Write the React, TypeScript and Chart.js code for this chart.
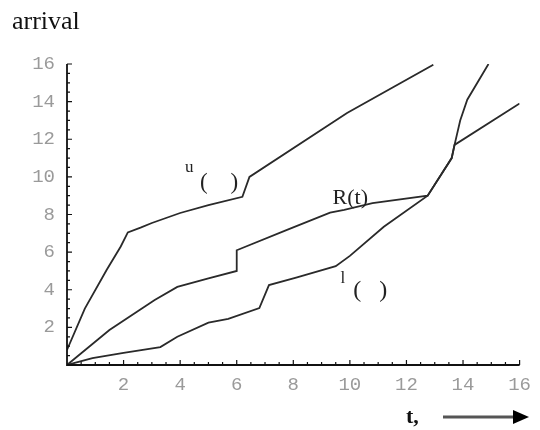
import React, { useEffect, useRef } from "react";
import { Chart, registerables } from "chart.js";

Chart.register(...registerables);

// ---- data ----
const xTickValues = [0, 2, 4, 6, 8, 10, 12, 14, 16];
const yTickValues = [0, 2, 4, 6, 8, 10, 12, 14, 16];

const upperT = [0, 0.63, 1.4, 1.9, 2.15, 2.6, 3, 4, 5, 6.2, 6.45, 9.9, 12.95];
const upperV = [0.8, 3.0, 5.05, 6.3, 7.05, 7.3, 7.55, 8.08, 8.5, 8.94, 10.0, 13.4, 15.96];

const rT = [0, 1.5, 3.1, 3.9, 5, 6, 6, 7.8, 9.3, 9.8, 10.8, 12.75, 13.6, 13.7, 16];
const rV = [0, 1.86, 3.45, 4.15, 4.6, 5.0, 6.1, 7.2, 8.1, 8.25, 8.6, 9.0, 11.0, 11.7, 13.9];

const lowerT = [0, 0.9, 2, 3.3, 3.9, 5, 5.7, 6.8, 7.14, 8.1, 9.5, 10, 11.2, 12.75, 13.6, 13.7, 13.9, 14.15, 14.9];
const lowerV = [0, 0.37, 0.65, 0.95, 1.5, 2.25, 2.45, 3.03, 4.25, 4.65, 5.25, 5.8, 7.35, 9.0, 11.0, 11.7, 13.0, 14.1, 16.0];

const curveLabels = [
  { text: "u", x: 4.17, y: 10.25, size: 17 },
  { text: "(    )", x: 4.7, y: 9.35, size: 23 },
  { text: "R(t)", x: 9.39, y: 8.56, size: 22 },
  { text: "l", x: 9.67, y: 4.36, size: 17 },
  { text: "(   )", x: 10.12, y: 3.62, size: 24 },
];

const toPts = (t: number[], v: number[]) => t.map((x, i) => ({ x, y: v[i] }));

const decorPlugin = {
  id: "decor",
  afterDraw(chart: any) {
    const { ctx } = chart;
    const xs = chart.scales.x;
    const ys = chart.scales.y;
    const x0 = xs.getPixelForValue(0);
    const y0 = ys.getPixelForValue(0);
    ctx.save();
    // axes
    ctx.strokeStyle = "#111";
    ctx.lineWidth = 1.8;
    ctx.beginPath();
    ctx.moveTo(x0, ys.getPixelForValue(16));
    ctx.lineTo(x0, y0);
    ctx.lineTo(xs.getPixelForValue(16), y0);
    ctx.stroke();
    ctx.lineWidth = 1.2;
    ctx.beginPath();
    for (let v = 0.5; v <= 16.001; v += 0.5) {
      const major = Math.abs(v % 2) < 1e-6;
      const len = major ? 5 : 3;
      const px = xs.getPixelForValue(v);
      ctx.moveTo(px, y0);
      ctx.lineTo(px, y0 - len);
      const py = ys.getPixelForValue(v);
      ctx.moveTo(x0, py);
      ctx.lineTo(x0 + len, py);
    }
    ctx.stroke();
    // curve labels
    ctx.fillStyle = "#222";
    ctx.textBaseline = "alphabetic";
    ctx.textAlign = "left";
    for (const l of curveLabels) {
      ctx.font = `${l.size}px "Liberation Serif"`;
      ctx.fillText(l.text, xs.getPixelForValue(l.x), ys.getPixelForValue(l.y));
    }
    // titles
    ctx.fillStyle = "#111";
    ctx.font = '26px "Liberation Serif"';
    ctx.fillText("arrival", 12, 29);
    ctx.font = 'bold 22px "Liberation Serif"';
    ctx.fillText("t,", 406, 423);
    // arrow
    ctx.strokeStyle = "#555";
    ctx.lineWidth = 3;
    ctx.beginPath();
    ctx.moveTo(443, 417);
    ctx.lineTo(516, 417);
    ctx.stroke();
    ctx.fillStyle = "#000";
    ctx.beginPath();
    ctx.moveTo(513, 410);
    ctx.lineTo(529, 417);
    ctx.lineTo(513, 424);
    ctx.closePath();
    ctx.fill();
    ctx.restore();
  },
};

export default function App() {
  const ref = useRef<HTMLCanvasElement>(null);
  useEffect(() => {
    if (!ref.current) return;
    const lineDs = (label: string, data: any[]) => ({
      label,
      data,
      borderColor: "#2a2a2a",
      borderWidth: 1.8,
      pointRadius: 0,
      tension: 0,
      fill: false,
    });
    const chart = new Chart(ref.current, {
      type: "line",
      data: {
        datasets: [
          lineDs("u", toPts(upperT, upperV)),
          lineDs("R", toPts(rT, rV)),
          lineDs("l", toPts(lowerT, lowerV)),
        ],
      },
      options: {
        animation: false,
        responsive: false,
        layout: { padding: { left: 0, top: 64, right: 13, bottom: 0 } },
        plugins: { legend: { display: false }, tooltip: { enabled: false } },
        scales: {
          x: {
            type: "linear",
            min: 0,
            max: 16,
            grid: { display: false, drawTicks: false },
            border: { display: false },
            afterFit: (s: any) => {
              s.height = 65;
            },
            afterBuildTicks: (s: any) => {
              s.ticks = xTickValues.map((v) => ({ value: v }));
            },
            ticks: {
              padding: 9,
              color: "#9a9a9a",
              font: { family: "Liberation Mono", size: 19 },
              callback: (v: any) => (v === 0 ? "" : String(v)),
              maxRotation: 0,
            },
          },
          y: {
            type: "linear",
            min: 0,
            max: 16,
            grid: { display: false, drawTicks: false },
            border: { display: false },
            afterFit: (s: any) => {
              s.width = 67;
            },
            afterBuildTicks: (s: any) => {
              s.ticks = yTickValues.map((v) => ({ value: v }));
            },
            ticks: {
              padding: 12,
              color: "#9a9a9a",
              font: { family: "Liberation Mono", size: 19 },
              callback: (v: any) => (v === 0 ? "" : String(v)),
            },
          },
        },
      },
      plugins: [decorPlugin],
    });
    return () => chart.destroy();
  }, []);
  return (
    <canvas
      ref={ref}
      width={540}
      height={430}
      style={{ position: "absolute", left: 0, top: 0, width: 540, height: 430, background: "#fff" }}
    />
  );
}
